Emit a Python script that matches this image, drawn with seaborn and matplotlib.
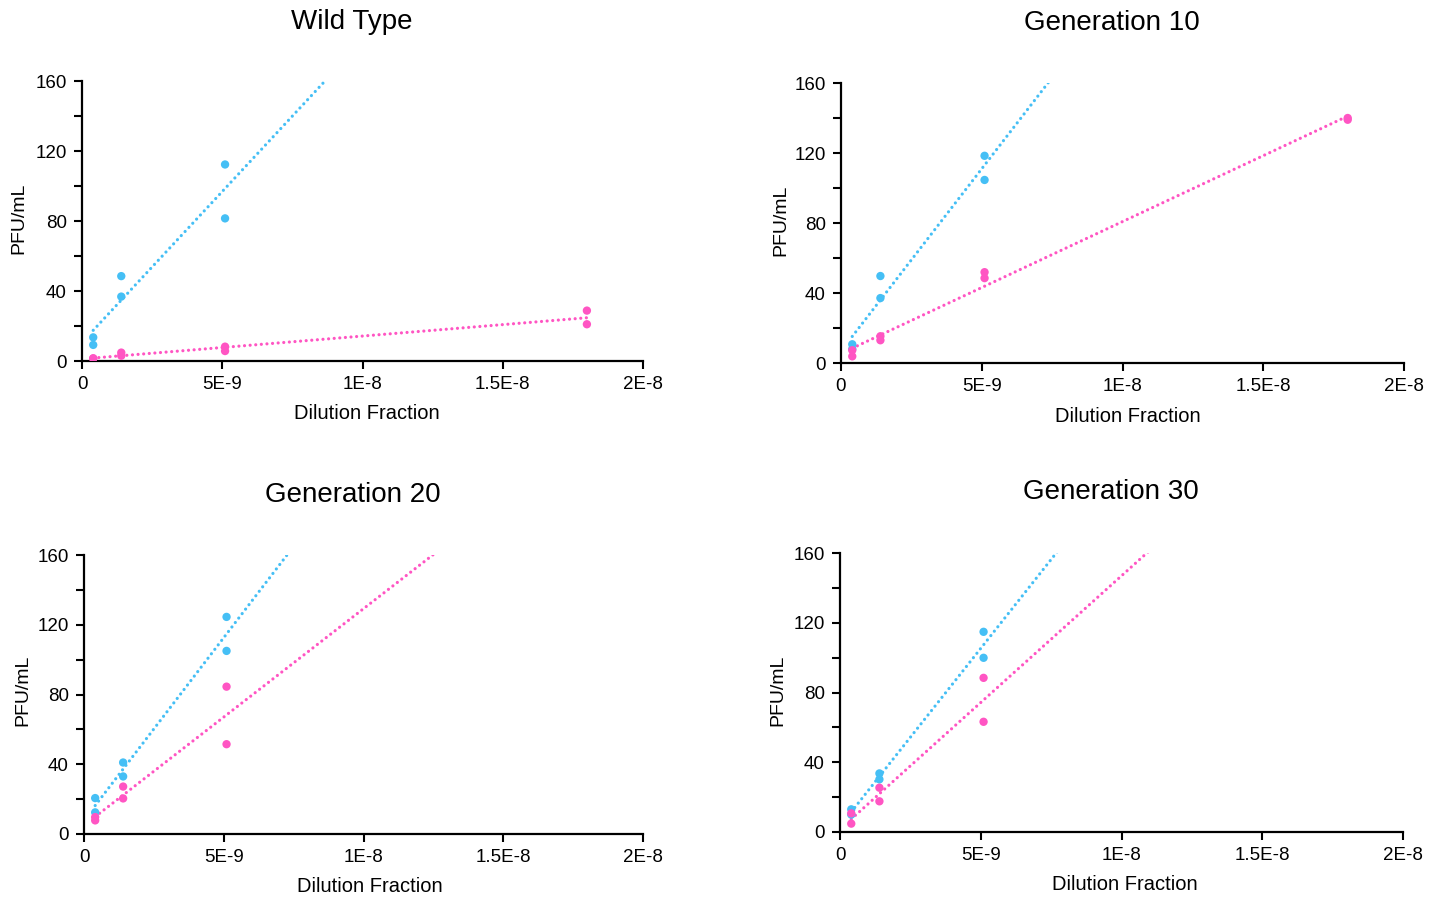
import numpy as np
import pandas as pd
import matplotlib
matplotlib.use("Agg")
import matplotlib.pyplot as plt
import seaborn as sns
from matplotlib.ticker import MultipleLocator

sns.set_style("white")
plt.rcParams['font.family'] = ['Liberation Sans', 'DejaVu Sans']
plt.rcParams['text.color'] = 'black'

# ---------------- data ----------------
panel_titles = ["Wild Type", "Generation 10", "Generation 20", "Generation 30"]
series_names = ["Series A", "Series B"]
series_colors = ["#45BFF5", "#FF55C3"]

x_ticks = [0, 5e-9, 1e-8, 1.5e-8, 2e-8]
x_tick_labels = ["0", "5E-9", "1E-8", "1.5E-8", "2E-8"]
y_ticks = [0, 40, 80, 120, 160]

x_short = [4e-10, 4e-10, 1.4e-9, 1.4e-9, 5.1e-9, 5.1e-9]
x_long = [4e-10, 4e-10, 1.4e-9, 1.4e-9, 5.1e-9, 5.1e-9, 1.8e-8, 1.8e-8]

wt_a = [13.5, 9.2, 48.5, 36.8, 112.3, 81.5]
wt_b = [1.5, 1.5, 4.8, 3.0, 8.2, 5.7, 28.8, 21.0]
g10_a = [10.7, 8.0, 49.7, 37.1, 118.4, 104.6]
g10_b = [7.3, 3.8, 15.3, 13.0, 51.9, 48.5, 140.0, 139.0]
g20_a = [20.6, 12.4, 41.0, 33.0, 124.5, 105.0]
g20_b = [9.7, 7.8, 27.2, 20.4, 84.5, 51.5]
g30_a = [13.0, 10.0, 33.6, 30.2, 114.8, 99.9]
g30_b = [10.7, 4.8, 25.4, 17.6, 88.4, 63.2]

panels = [
    (x_short, wt_a, x_long, wt_b),
    (x_short, g10_a, x_long, g10_b),
    (x_short, g20_a, x_short, g20_b),
    (x_short, g30_a, x_short, g30_b),
]
fit_x_end = 1.8e-8

# ---------------- layout (pixels) ----------------
W, H = 1445, 900
axes_px = [(82, 81, 643, 361), (841, 83, 1404, 363),
           (84, 555, 643, 834), (840, 553, 1403, 832)]
title_px = [(352, 22), (1112, 23), (353, 495), (1111, 492)]
xlabel_px = [(367, 414), (1128, 416), (370, 887), (1125, 885)]
ylabel_px = [(19, 218), (781, 220), (23, 690), (778, 690)]

fig = plt.figure(figsize=(W / 100, H / 100), dpi=100)

for i, (xa, ya, xb, yb) in enumerate(panels):
    l, t, r, b = axes_px[i]
    ax = fig.add_axes([l / W, 1 - b / H, (r - l) / W, (b - t) / H])

    df = pd.concat([
        pd.DataFrame({"x": xa, "y": ya, "s": series_names[0]}),
        pd.DataFrame({"x": xb, "y": yb, "s": series_names[1]}),
    ], ignore_index=True)

    # trend lines (least squares fit of each series)
    for name, color, xs, ys in [(series_names[0], series_colors[0], xa, ya),
                                (series_names[1], series_colors[1], xb, yb)]:
        slope, intercept = np.polyfit(np.array(xs) * 1e9, np.array(ys), 1)
        xline = np.array([min(xs), fit_x_end])
        yline = intercept + slope * xline * 1e9
        ax.plot(xline, yline, color=color, lw=2.3,
                linestyle=(0, (0.01, 1.75)), dash_capstyle='round', zorder=2)

    sns.scatterplot(data=df, x="x", y="y", hue="s",
                    palette=dict(zip(series_names, series_colors)),
                    s=36, linewidth=0, ax=ax, legend=False, zorder=3)

    ax.set_xlim(0, 2e-8)
    ax.set_ylim(0, 160)
    ax.set_xticks(x_ticks, labels=x_tick_labels)
    ax.set_yticks(y_ticks)
    ax.yaxis.set_minor_locator(MultipleLocator(20))
    ax.tick_params(axis='both', which='major', direction='out', length=6,
                   width=1.5, labelsize=13.5, color='black', pad=5,
                   labelcolor='black')
    ax.tick_params(axis='y', which='minor', direction='out', length=6,
                   width=1.5, color='black', left=True)
    ax.tick_params(left=True, bottom=True)
    for side in ['top', 'right']:
        ax.spines[side].set_visible(False)
    for side in ['left', 'bottom']:
        ax.spines[side].set_color('black')
        ax.spines[side].set_linewidth(1.6)
    ax.set_xlabel("")
    ax.set_ylabel("")

    fig.text(title_px[i][0] / W, 1 - title_px[i][1] / H, panel_titles[i],
             ha='center', va='center', fontsize=20, color='black')
    fig.text(xlabel_px[i][0] / W, 1 - xlabel_px[i][1] / H, "Dilution Fraction",
             ha='center', va='center', fontsize=14.5, color='black')
    fig.text(ylabel_px[i][0] / W, 1 - ylabel_px[i][1] / H, "PFU/mL",
             ha='center', va='center', fontsize=14, rotation=90, color='black')

fig.savefig("out.png", dpi=100)
